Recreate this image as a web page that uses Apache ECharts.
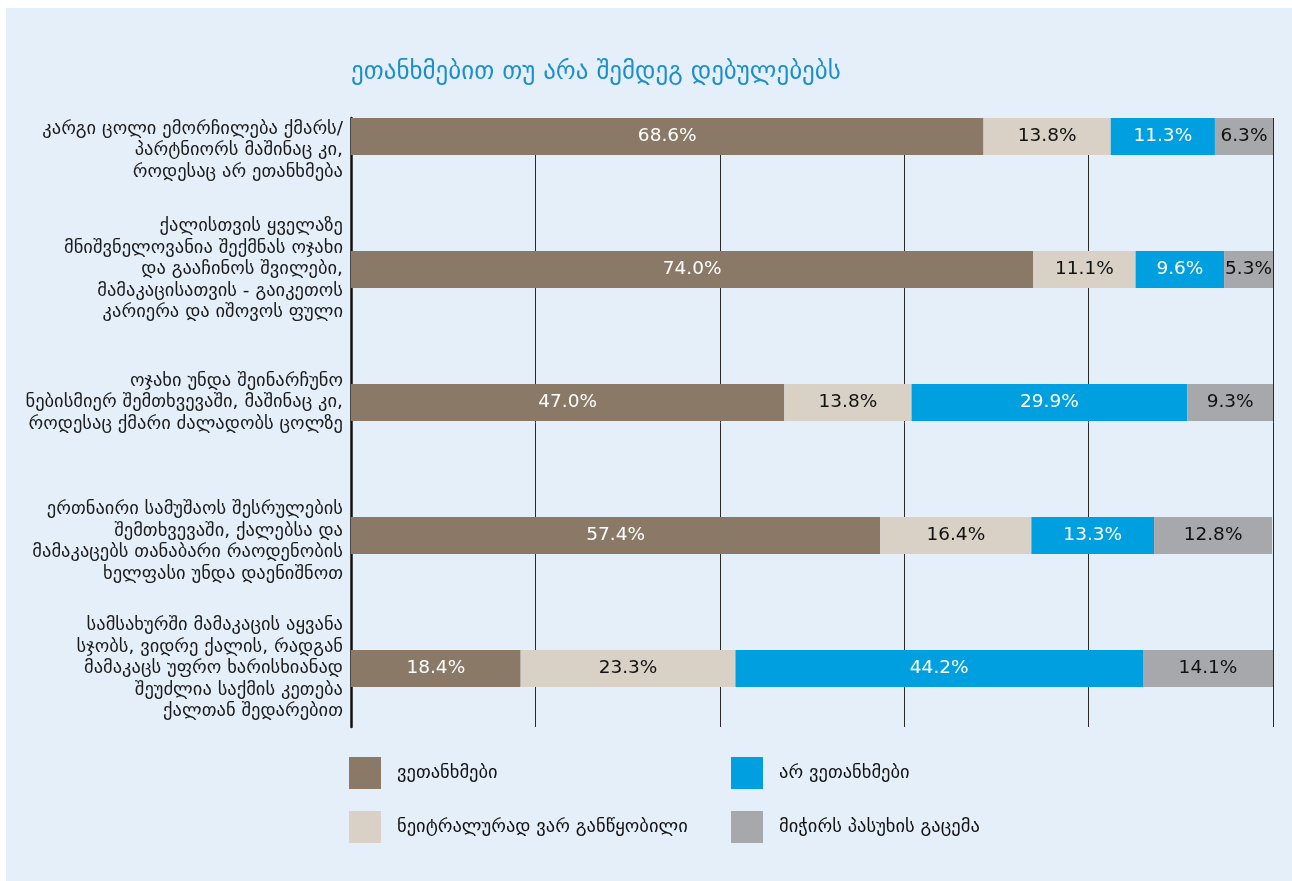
<!DOCTYPE html>
<html>
<head>
<meta charset="utf-8">
<script src="https://cdn.jsdelivr.net/npm/echarts@6/dist/echarts.min.js"></script>
<style>
  html, body { margin: 0; padding: 0; background: #ffffff; }
  #bg { position: absolute; left: 6px; top: 8px; width: 1286px; height: 873px; background: #E5EFF9; }
  #c { position: absolute; left: 0; top: 0; width: 1292px; height: 881px; }
</style>
</head>
<body>
<div id="bg"></div>
<div id="c"></div>
<script>
const titleText = 'ეთანხმებით თუ არა შემდეგ დებულებებს';
const categories = [
  'კარგი ცოლი ემორჩილება ქმარს/\nპარტნიორს მაშინაც კი,\nროდესაც არ ეთანხმება',
  'ქალისთვის ყველაზე\nმნიშვნელოვანია შექმნას ოჯახი\nდა გააჩინოს შვილები,\nმამაკაცისათვის - გაიკეთოს\nკარიერა და იშოვოს ფული',
  'ოჯახი უნდა შეინარჩუნო\nნებისმიერ შემთხვევაში, მაშინაც კი,\nროდესაც ქმარი ძალადობს ცოლზე',
  'ერთნაირი სამუშაოს შესრულების\nშემთხვევაში, ქალებსა და\nმამაკაცებს თანაბარი რაოდენობის\nხელფასი უნდა დაენიშნოთ',
  'სამსახურში მამაკაცის აყვანა\nსჯობს, ვიდრე ქალის, რადგან\nმამაკაცს უფრო ხარისხიანად\nშეუძლია საქმის კეთება\nქალთან შედარებით'
];
const seriesNames = ['ვეთანხმები', 'ნეიტრალურად ვარ განწყობილი', 'არ ვეთანხმები', 'მიჭირს პასუხის გაცემა'];
const agree    = [68.6, 74.0, 47.0, 57.4, 18.4];
const neutral  = [13.8, 11.1, 13.8, 16.4, 23.3];
const disagree = [11.3,  9.6, 29.9, 13.3, 44.2];
const dontKnow = [ 6.3,  5.3,  9.3, 12.8, 14.1];
const xTicks = [0, 20, 40, 60, 80, 100];

const colors = ['#8A7966', '#D9D1C6', '#009FDF', '#A7A8AB'];
const labelColors = ['#ffffff', '#111111', '#ffffff', '#111111'];
const FONT = 'DejaVu Sans';
// small vertical nudges of individual category labels (layout only): spacer line heights
const labelNudge = [28, 0, 0, 12, 0];

const seriesData = [agree, neutral, disagree, dontKnow];

const chart = echarts.init(document.getElementById('c'), null, { renderer: 'canvas' });

const legendText = { fontSize: 18.5, color: '#111111', fontFamily: FONT, padding: [0, 0, 0, 11] };

const option = {
  backgroundColor: 'transparent',
  textStyle: { fontFamily: FONT },
  title: {
    text: titleText,
    left: 346,
    top: 55,
    textStyle: { color: '#1C8FCB', fontSize: 25, fontWeight: 'normal', fontFamily: FONT }
  },
  legend: [
    {
      data: [seriesNames[0], seriesNames[1]],
      orient: 'vertical',
      left: 344, top: 752,
      itemWidth: 32, itemHeight: 32, itemGap: 22,
      icon: 'rect',
      textStyle: legendText,
      selectedMode: false
    },
    {
      data: [seriesNames[2], seriesNames[3]],
      orient: 'vertical',
      left: 726, top: 752,
      itemWidth: 32, itemHeight: 32, itemGap: 22,
      icon: 'rect',
      textStyle: legendText,
      selectedMode: false
    }
  ],
  grid: [
    { left: 351, right: 19, top: 70, height: 665, containLabel: false },
    { left: 351, right: 19, top: 118, bottom: 154, containLabel: false }
  ],
  xAxis: [
    { type: 'value', gridIndex: 0, min: 0, max: 100, show: false },
    {
      type: 'value', gridIndex: 1, min: xTicks[0], max: xTicks[xTicks.length - 1], interval: xTicks[1] - xTicks[0],
      axisLine: { show: false }, axisTick: { show: false }, axisLabel: { show: false },
      splitLine: { show: true, lineStyle: { color: '#2a2a2a', width: 1 } }
    }
  ],
  yAxis: [
    {
      type: 'category', gridIndex: 0, inverse: true,
      data: categories,
      axisLine: { show: false }, axisTick: { show: false },
      axisLabel: {
        margin: 8, fontSize: 18.5, lineHeight: 21.5, color: '#1a1a1a', align: 'right', fontFamily: FONT,
        formatter: (value, index) => {
          const n = labelNudge[index];
          return n ? '{n' + n + '| }\n' + value : value;
        },
        rich: {
          n28: { lineHeight: 28, fontSize: 1 },
          n12: { lineHeight: 12, fontSize: 1 }
        }
      }
    },
    {
      type: 'value', gridIndex: 1, min: 0, max: 1,
      axisLine: { show: true, lineStyle: { color: '#111111', width: 2.5 } },
      axisTick: { show: false }, axisLabel: { show: false }, splitLine: { show: false }
    }
  ],
  series: seriesNames.map((name, i) => ({
    name,
    type: 'bar',
    stack: 'total',
    xAxisIndex: 0,
    yAxisIndex: 0,
    barWidth: 37,
    itemStyle: { color: colors[i] },
    label: {
      show: true,
      position: 'inside',
      color: labelColors[i],
      fontSize: 18.5,
      fontFamily: FONT,
      formatter: p => p.value.toFixed(1) + '%'
    },
    data: seriesData[i]
  }))
};

chart.setOption(option);
</script>
</body>
</html>
